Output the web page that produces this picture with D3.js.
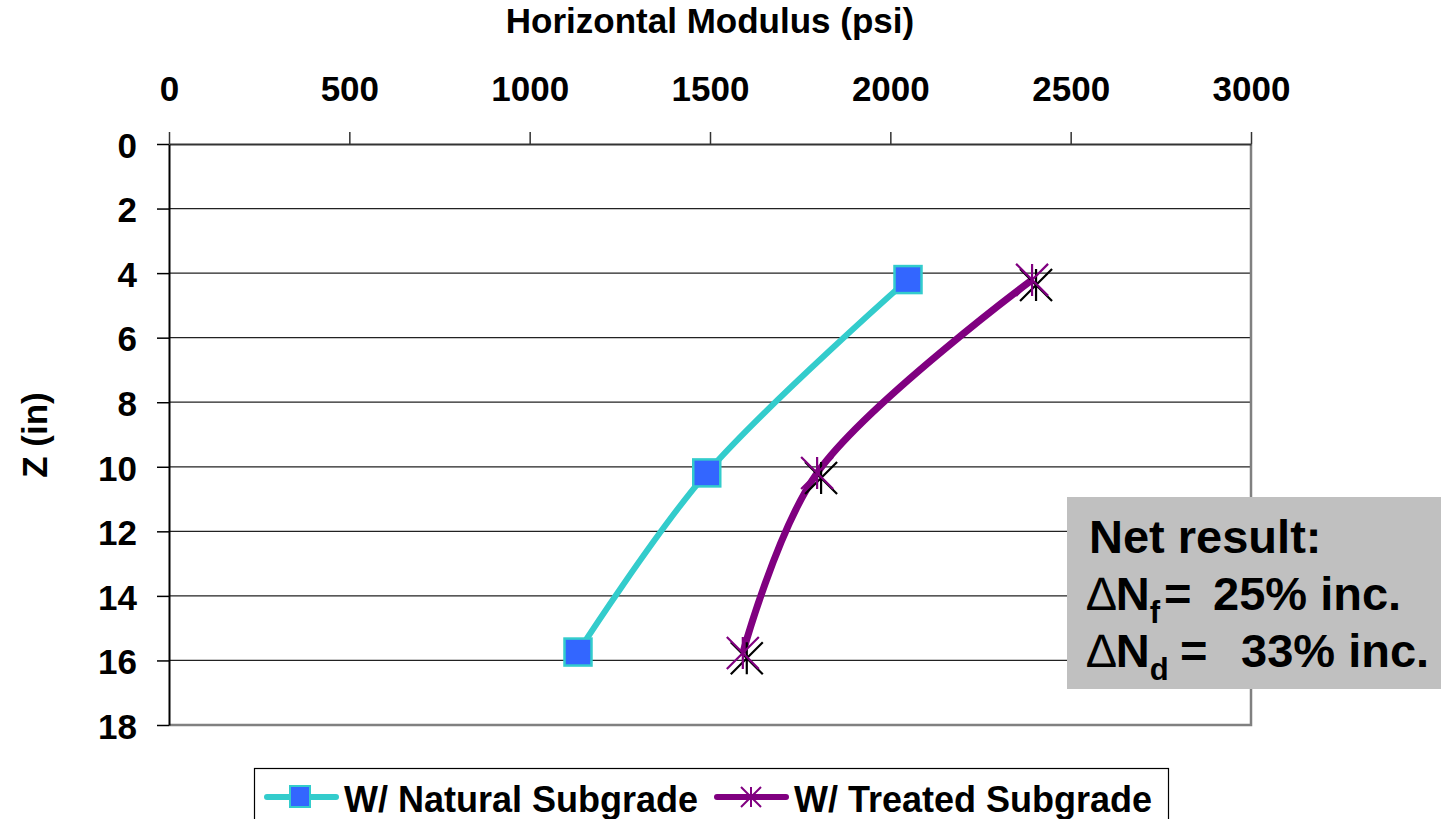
<!DOCTYPE html>
<html>
<head>
<meta charset="utf-8">
<script src="https://cdn.jsdelivr.net/npm/d3@7"></script>
<style>
  body { margin: 0; background: #fff; }
  text { font-family: "Liberation Sans", Arial, sans-serif; font-weight: bold; }
</style>
</head>
<body>
<script>
// Chart data
var depthNatural = [4.2, 10.19, 15.74];
var modulusNatural = [2049, 1491, 1134];
var depthTreated = [4.21, 10.19, 15.77];
var modulusTreated = [2393, 1797, 1591];
// second (black) marker set drawn slightly off the treated points
var depthTreatedB = [4.37, 10.35, 15.93];
var modulusTreatedB = [2404, 1808, 1602];

var xTicks = [0, 500, 1000, 1500, 2000, 2500, 3000];
var yTicks = [0, 2, 4, 6, 8, 10, 12, 14, 16, 18];
var seriesNames = ["W/ Natural Subgrade", "W/ Treated Subgrade"];

// SVG area
var svgWidth = 1441;
var svgHeight = 819;

var svg = d3.select("body")
            .append("svg")
            .attr("width", svgWidth)
            .attr("height", svgHeight);

// plot frame
var plot = { left: 169, right: 1251, top: 144, bottom: 725 };

var x = d3.scaleLinear()
          .domain([0, 3000])
          .range([plot.left, plot.right]);

var y = d3.scaleLinear()
          .domain([0, 18])
          .range([plot.top, plot.bottom]);

// horizontal grid lines
svg.append("g")
   .selectAll("line")
   .data(yTicks.filter(function(d) { return d > 0 && d < 18; }))
   .enter()
   .append("line")
   .attr("x1", plot.left)
   .attr("x2", plot.right)
   .attr("y1", function(d) { return y(d); })
   .attr("y2", function(d) { return y(d); })
   .attr("stroke", "#222")
   .attr("stroke-width", 1.3);

// bottom and right frame (grey)
svg.append("path")
   .attr("d", "M" + plot.left + "," + plot.bottom + "H" + plot.right + "V" + plot.top)
   .attr("fill", "none")
   .attr("stroke", "#808080")
   .attr("stroke-width", 2.5);

// top axis
var xAxis = svg.append("g")
               .attr("transform", "translate(0," + plot.top + ")")
               .call(d3.axisTop(x).tickValues(xTicks).tickFormat(d3.format("d"))
                       .tickSize(12).tickSizeOuter(0).tickPadding(31));

xAxis.select(".domain").attr("stroke", "#333").attr("stroke-width", 2);
xAxis.selectAll(".tick line").attr("stroke", "#333").attr("stroke-width", 1.5);
xAxis.selectAll(".tick text")
     .style("font-size", "35px")
     .style("font-family", "Liberation Sans, Arial, sans-serif")
     .style("font-weight", "bold")
     .attr("fill", "#000");

// left axis
var yAxis = svg.append("g")
               .attr("transform", "translate(" + plot.left + ",0)")
               .call(d3.axisLeft(y).tickValues(yTicks).tickFormat(d3.format("d"))
                       .tickSize(12).tickSizeOuter(0).tickPadding(20));

yAxis.select(".domain").attr("stroke", "#000").attr("stroke-width", 2);
yAxis.selectAll(".tick line").attr("stroke", "#000").attr("stroke-width", 1.5);
yAxis.selectAll(".tick text")
     .attr("dy", "0.38em")
     .style("font-size", "35px")
     .style("font-family", "Liberation Sans, Arial, sans-serif")
     .style("font-weight", "bold")
     .attr("fill", "#000");

// axis titles
svg.append("text")
   .attr("x", 710)
   .attr("y", 33)
   .attr("text-anchor", "middle")
   .style("font-size", "35px")
   .text("Horizontal Modulus (psi)");

svg.append("text")
   .attr("transform", "translate(47,435) rotate(-90)")
   .attr("text-anchor", "middle")
   .style("font-size", "35px")
   .text("Z (in)");

// lines
var line = d3.line()
             .x(function(d) { return x(d[0]); })
             .y(function(d) { return y(d[1]); })
             .curve(d3.curveCatmullRom);

var natural = modulusNatural.map(function(m, i) { return [m, depthNatural[i]]; });
var treated = modulusTreated.map(function(m, i) { return [m, depthTreated[i]]; });
var treatedB = modulusTreatedB.map(function(m, i) { return [m, depthTreatedB[i]]; });

svg.append("path")
   .datum(natural)
   .attr("d", line)
   .attr("fill", "none")
   .attr("stroke", "#33CCCC")
   .attr("stroke-width", 6);

svg.append("path")
   .datum(treated)
   .attr("d", line)
   .attr("fill", "none")
   .attr("stroke", "#800080")
   .attr("stroke-width", 7);

// asterisk marker path
function starPath(r) {
  return "M" + (-r) + "," + (-r) + "L" + r + "," + r +
         "M" + (-r) + "," + r + "L" + r + "," + (-r) +
         "M0," + (-r) + "L0," + r;
}

svg.append("g")
   .selectAll("path")
   .data(treatedB)
   .enter()
   .append("path")
   .attr("transform", function(d) { return "translate(" + x(d[0]) + "," + y(d[1]) + ")"; })
   .attr("d", starPath(16))
   .attr("fill", "none")
   .attr("stroke", "#000")
   .attr("stroke-width", 2.2);

svg.append("g")
   .selectAll("path")
   .data(treated)
   .enter()
   .append("path")
   .attr("transform", function(d) { return "translate(" + x(d[0]) + "," + y(d[1]) + ")"; })
   .attr("d", starPath(16))
   .attr("fill", "none")
   .attr("stroke", "#800080")
   .attr("stroke-width", 2.2);

svg.append("g")
   .selectAll("rect")
   .data(natural)
   .enter()
   .append("rect")
   .attr("x", function(d) { return x(d[0]) - 13.5; })
   .attr("y", function(d) { return y(d[1]) - 13.5; })
   .attr("width", 27)
   .attr("height", 27)
   .attr("fill", "#3366FF")
   .attr("stroke", "#33CCCC")
   .attr("stroke-width", 2.5);

// net result box
svg.append("rect")
   .attr("x", 1067)
   .attr("y", 497)
   .attr("width", 380)
   .attr("height", 192)
   .attr("fill", "#C0C0C0");

var note = svg.append("g").style("font-size", "47px");
note.append("text").attr("x", 1089).attr("y", 553).text("Net result:");

var l2 = note.append("text").attr("y", 610);
l2.append("tspan").attr("x", 1087).style("font-weight", "normal").text("\u2206");
l2.append("tspan").text("N");
l2.append("tspan").attr("dy", 13).style("font-size", "31px").text("f");
l2.append("tspan").attr("dy", -13).attr("x", 1164).text("=");
l2.append("tspan").attr("x", 1213).text("25% inc.");

var l3 = note.append("text").attr("y", 667);
l3.append("tspan").attr("x", 1087).style("font-weight", "normal").text("\u2206");
l3.append("tspan").text("N");
l3.append("tspan").attr("dy", 13).style("font-size", "31px").text("d");
l3.append("tspan").attr("dy", -13).attr("x", 1180).text("=");
l3.append("tspan").attr("x", 1241).text("33% inc.");

// legend
var legend = svg.append("g");
legend.append("rect")
      .attr("x", 254.5)
      .attr("y", 768.5)
      .attr("width", 914)
      .attr("height", 70)
      .attr("fill", "#fff")
      .attr("stroke", "#000")
      .attr("stroke-width", 1.2);

legend.append("line")
      .attr("x1", 267).attr("x2", 336).attr("y1", 797).attr("y2", 797)
      .attr("stroke", "#33CCCC").attr("stroke-width", 6).attr("stroke-linecap", "round");
legend.append("rect")
      .attr("x", 290).attr("y", 786).attr("width", 20).attr("height", 21)
      .attr("fill", "#3366FF").attr("stroke", "#33CCCC").attr("stroke-width", 2);
legend.append("text").attr("x", 344).attr("y", 812).style("font-size", "36px").text(seriesNames[0]);

legend.append("line")
      .attr("x1", 717).attr("x2", 786).attr("y1", 797).attr("y2", 797)
      .attr("stroke", "#800080").attr("stroke-width", 6).attr("stroke-linecap", "round");
legend.append("path")
      .attr("transform", "translate(751,797)")
      .attr("d", starPath(10))
      .attr("fill", "none").attr("stroke", "#800080").attr("stroke-width", 2);
legend.append("text").attr("x", 794).attr("y", 812).style("font-size", "36px").text(seriesNames[1]);
</script>
</body>
</html>
